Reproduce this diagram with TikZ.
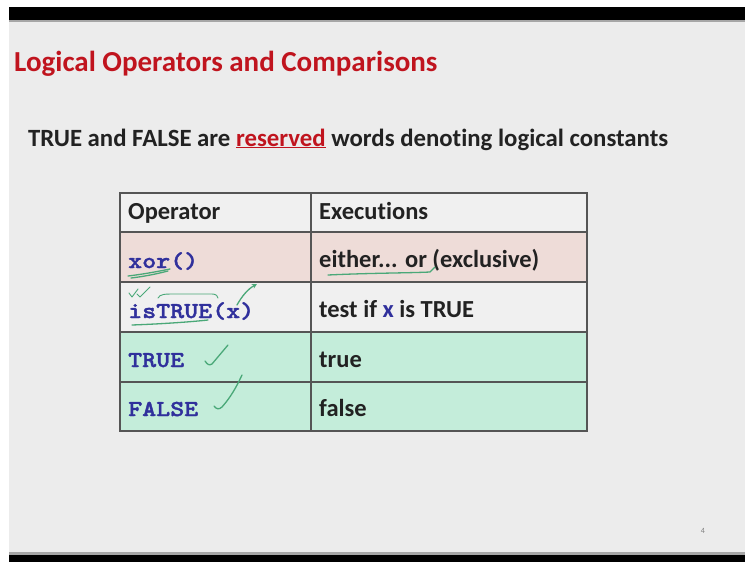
\documentclass[tikz,border=0pt]{standalone}
\usepackage{fontspec}
\setmainfont{Carlito}[Ligatures={NoCommon}]
\newfontfamily\monof[FakeStretch=1.17,FakeBold=1.6]{lmmonolt10-bold.otf}
\usetikzlibrary{arrows.meta}
\definecolor{slidebg}{HTML}{ECECEC}
\definecolor{titlered}{HTML}{C0141E}
\definecolor{bodytxt}{HTML}{222222}
\definecolor{monoblue}{HTML}{30309C}
\definecolor{rowpink}{HTML}{EEDCD8}
\definecolor{rowgreen}{HTML}{C4EDDA}
\definecolor{rowlight}{HTML}{F0F0F0}
\definecolor{gridc}{HTML}{555555}
\definecolor{pen}{HTML}{4AA878}
\tikzset{
  celltxt/.style={anchor=base west, inner sep=0pt, text=bodytxt, font=\fontsize{24.5}{28}\selectfont\bfseries},
  monotxt/.style={anchor=base west, inner sep=0pt, text=monoblue, font=\fontsize{22.8}{26}\selectfont\monof},
  grid/.style={draw=gridc, line width=1.2pt},
  penline/.style={draw=pen, line width=1.3pt, line cap=round, line join=round}
}
\begin{document}
\begin{tikzpicture}[x=1pt,y=-1pt]
\useasboundingbox (0,0) rectangle (745,562);
\fill[white] (0,0) rectangle (745,562);
\fill[slidebg] (9,7) rectangle (745,555);
\fill[black] (9,7) rectangle (745,20);
\fill[gray!70] (9,20) rectangle (745,22);
\fill[gray!70] (9,552) rectangle (745,555);
\fill[black] (9,555) rectangle (745,562);

\node[anchor=base west, inner sep=0pt, text=titlered, font=\fontsize{29}{33}\selectfont\bfseries] (title) at (14,71) {Logical Operators and Comparisons};
\node[anchor=base west, inner sep=0pt, text=bodytxt, font=\fontsize{24.8}{28}\selectfont\bfseries] (sub) at (28,146) {TRUE and FALSE are \textcolor{titlered}{\underline{reserved}} words denoting logical constants};

% rows
\fill[rowlight] (120,193) rectangle (587,232);
\fill[rowpink] (120,232) rectangle (587,282);
\fill[rowlight] (120,282) rectangle (587,332);
\fill[rowgreen] (120,332) rectangle (587,431);
\draw[grid] (120,193) rectangle (587,431);
\draw[grid] (311,193) -- (311,431);
\foreach \yy in {232,282,332,382} \draw[grid] (120,\yy) -- (587,\yy);

\node[celltxt] (h1) at (128,219) {Operator};
\node[celltxt] (h2) at (319,219) {Executions};
\node[monotxt] (o1) at (128,268) {xor()};
\node[celltxt] (e1) at (319,267) {either... or (exclusive)};
\node[monotxt] (o2) at (128,318) {isTRUE(x)};
\node[celltxt] (e2) at (319,317) {test if \textcolor{monoblue}{x} is TRUE};
\node[monotxt] (o3) at (128,367) {TRUE};
\node[celltxt] (e3) at (319,367) {true};
\node[monotxt] (o4) at (128,416) {FALSE};
\node[celltxt] (e4) at (319,416) {false};

% handwritten marks
\draw[penline] (128,276) .. controls (145,274) and (160,271) .. (170,269);
\draw[penline] (131,278) .. controls (148,276) and (160,273) .. (168,271);
\draw[penline] (328,275) .. controls (370,273) and (410,273) .. (430,272) -- (435,267);
\draw[penline, line width=0.9pt] (129,293) -- (132,297) -- (138,289) (137,294) -- (140,297) -- (150,287);
\draw[penline, line width=0.9pt] (158,298) .. controls (160,294) and (165,294) .. (175,294) -- (212,294) .. controls (216,294) and (218,296) .. (218,298);
\draw[penline, -{Stealth[length=5pt,width=5pt]}] (237,305) .. controls (242,296) and (248,289) .. (257,284);
\draw[penline] (132,325) .. controls (160,324) and (190,322) .. (208,320);
\draw[penline] (205,361) .. controls (207,364) and (209,366) .. (212,364) -- (228,345);
\draw[penline] (214,406) .. controls (216,409) and (219,410) .. (222,407) .. controls (230,398) and (236,388) .. (242,375);

\node[anchor=base, inner sep=0pt, text=gray, font=\fontsize{8}{9}\selectfont] (pg) at (703,533) {4};
\end{tikzpicture}
\end{document}
